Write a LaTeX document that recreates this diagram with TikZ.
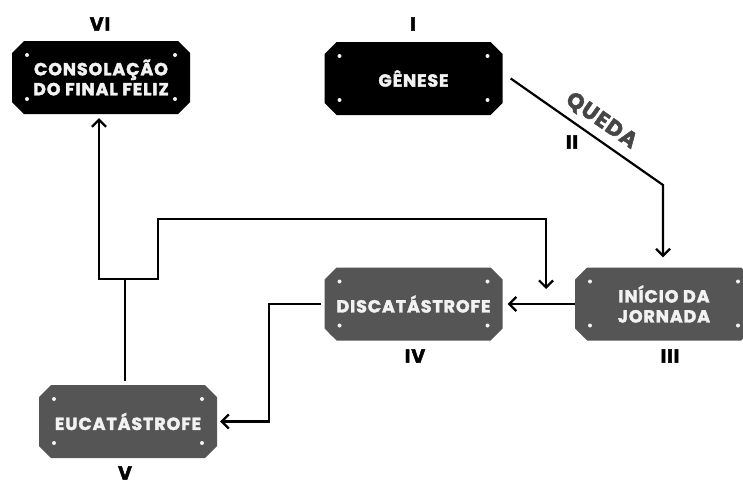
\documentclass[tikz,border=0pt]{standalone}
\usepackage{fontspec}
\setmainfont{Poppins}
\newfontfamily\plqfont[LetterSpace=5,FakeBold=2.2]{Poppins}
\usepackage{tikz}
\usetikzlibrary{positioning,arrows.meta,shapes.misc}
\definecolor{pgray}{RGB}{85,85,85}
\definecolor{ptxt}{RGB}{242,242,242}
\definecolor{qgray}{RGB}{70,70,70}
\tikzset{
  plq/.style={chamfered rectangle, chamfered rectangle xsep=6pt, chamfered rectangle ysep=6pt,
    minimum width=178pt, minimum height=73pt, inner sep=0pt, align=center,
    text=ptxt, font=\plqfont\fontsize{17.5}{20}\selectfont\bfseries,
    path picture={
      \fill[ptxt] ([shift={(15pt,-14pt)}]path picture bounding box.north west) circle (2pt);
      \fill[ptxt] ([shift={(-15pt,-14pt)}]path picture bounding box.north east) circle (2pt);
      \fill[ptxt] ([shift={(15pt,15pt)}]path picture bounding box.south west) circle (2pt);
      \fill[ptxt] ([shift={(-15pt,15pt)}]path picture bounding box.south east) circle (2pt);
    }},
  blk/.style={plq, fill=black},
  gry/.style={plq, fill=pgray},
  lbl/.style={font=\plqfont\fontsize{19}{20}\selectfont\bfseries},
  ar/.style={-{Straight Barb[length=7pt,width=14pt]}, line width=2.2pt, line join=miter},
  ln/.style={line width=2.2pt}
}
\begin{document}
\begin{tikzpicture}[x=1pt,y=-1pt]
  \useasboundingbox (0,0) rectangle (743,479);
  % plaques
  \node[blk] (cons) at (101,77.5) {CONSOLAÇÃO\\DO FINAL FELIZ};
  \node[blk] (gen) at (413.5,78.5) {GÊNESE};
  \node[gry] (ini) at (664,304) {INÍCIO DA\\JORNADA};
  \node[gry] (disc) at (413.5,304) {DISCATÁSTROFE};
  \node[gry] (euc) at (128,421.5) {EUCATÁSTROFE};
  % numerals
  \node[lbl] (nvi) at (100,24) {VI};
  \node[lbl] (ni) at (413,24) {I};
  \node[lbl] (nii) at (572,142) {II};
  \node[lbl] (niii) at (670,356) {III};
  \node[lbl] (niv) at (415,356) {IV};
  \node[lbl] (nv) at (125,473) {V};
  % connectors
  \coordinate (bend) at (663,185);
  \draw[ar, shorten >=10pt] ([xshift=8pt]gen.east) -- node[sloped, above=4pt, pos=0.53, font=\plqfont\fontsize{22}{22}\selectfont\bfseries, text=qgray] (queda) {QUEDA} (bend) -- (bend |- ini.north);
  \draw[ar, shorten >=5pt] (ini.west) -- (disc.east);
  \draw[ar, shorten <=3pt, shorten >=3pt] (disc.west) -- ++(-55,0) |- (euc.east);
  \coordinate (split) at (125,279);
  \coordinate (mid) at (546,289);
  \draw[ln, shorten <=4pt] (euc.north -| split) -- (split);
  \draw[ar, shorten >=4pt] (split) -- (99,279) -- (99,279 |- cons.south);
  \draw[ar] (split) -- (158,279) -- (158,219) -- (546,219) -- (mid);
\end{tikzpicture}
\end{document}
